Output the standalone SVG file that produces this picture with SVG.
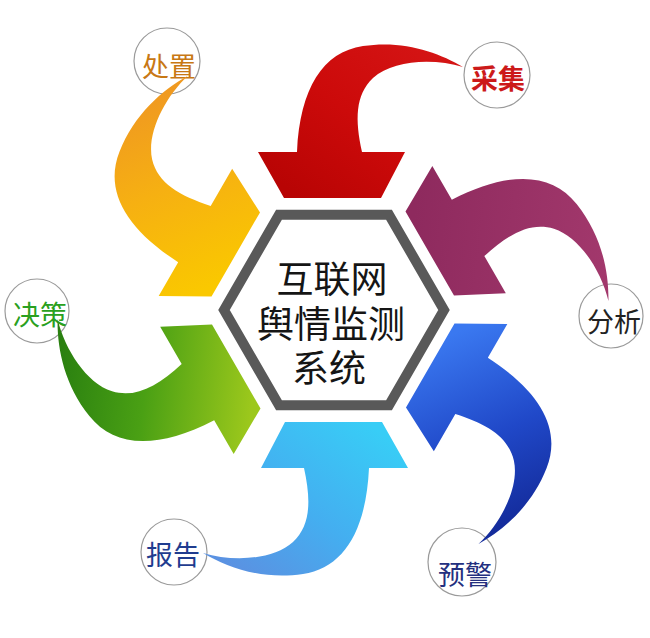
<svg xmlns="http://www.w3.org/2000/svg" xmlns:xlink="http://www.w3.org/1999/xlink" width="650" height="638" viewBox="0 0 650 638">
  <style>
    .ring { fill: #ffffff; stroke: #9a9a9a; stroke-width: 1.2; }
    .lbl { font-family: "Noto Sans CJK SC", "Noto Sans", sans-serif; font-size: 27px; text-anchor: middle; }
    .hubtxt { font-family: "Noto Sans CJK SC", "Noto Sans", sans-serif; font-size: 37px; fill: #151515; text-anchor: middle; }
  </style>
  <defs>
    <path id="arrow" d="M -75,-158 L -49,-112 L 48,-112 L 72,-158 L 29,-158 C 22,-190 22,-215 40,-232 C 60,-250 100,-252 130,-243 C 105,-258 70,-270 30,-264 C -10,-258 -33,-222 -36,-158 Z"/>
    <linearGradient id="gRed" x1="0.2" y1="1" x2="1" y2="0.2">
      <stop offset="0" stop-color="#b80404"/>
      <stop offset="0.5" stop-color="#cc0a0a"/>
      <stop offset="1" stop-color="#d41414"/>
    </linearGradient>
    <linearGradient id="gPurple" x1="0.2" y1="1" x2="1" y2="0.2">
      <stop offset="0" stop-color="#8e2a5e"/>
      <stop offset="1" stop-color="#a2386c"/>
    </linearGradient>
    <linearGradient id="gBlue" x1="0.2" y1="1" x2="1" y2="0.2">
      <stop offset="0" stop-color="#3a78f0"/>
      <stop offset="0.55" stop-color="#2048c8"/>
      <stop offset="1" stop-color="#142c9c"/>
    </linearGradient>
    <linearGradient id="gCyan" x1="0.2" y1="1" x2="1" y2="0.2">
      <stop offset="0" stop-color="#38cdf6"/>
      <stop offset="0.55" stop-color="#44aef0"/>
      <stop offset="1" stop-color="#5a92e2"/>
    </linearGradient>
    <linearGradient id="gGreen" x1="0.2" y1="1" x2="1" y2="0.2">
      <stop offset="0" stop-color="#9cc81c"/>
      <stop offset="0.55" stop-color="#4aa014"/>
      <stop offset="1" stop-color="#2a8010"/>
    </linearGradient>
    <linearGradient id="gOrange" x1="0.2" y1="1" x2="1" y2="0.2">
      <stop offset="0" stop-color="#fac800"/>
      <stop offset="0.55" stop-color="#f6b012"/>
      <stop offset="1" stop-color="#f09a20"/>
    </linearGradient>
  </defs>

  <rect x="0" y="0" width="650" height="638" fill="#ffffff"/>

  <g id="hub">
    <polygon points="224,310 279,214.7 389,214.7 444,310 389,405.3 279,405.3" fill="#ffffff" stroke="#595959" stroke-width="10" stroke-linejoin="miter"/>
    <text class="hubtxt" x="332" y="293">互联网</text>
    <text class="hubtxt" x="331" y="338">舆情监测</text>
    <text class="hubtxt" x="329" y="382">系统</text>
  </g>

  <g id="node-caiji">
    <circle class="ring" cx="497" cy="75" r="33"/>
    <text class="lbl" x="498" y="89" fill="#cc1a1a" font-weight="bold">采集</text>
  </g>
  <g id="node-fenxi">
    <circle class="ring" cx="611" cy="316" r="32"/>
    <text class="lbl" x="614" y="332" fill="#222222">分析</text>
  </g>
  <g id="node-yujing">
    <circle class="ring" cx="462" cy="562" r="34"/>
    <text class="lbl" x="465" y="585" fill="#24307f">预警</text>
  </g>
  <g id="node-baogao">
    <circle class="ring" cx="174" cy="552" r="33"/>
    <text class="lbl" x="173" y="565" fill="#1f3c8f">报告</text>
  </g>
  <g id="node-juece">
    <circle class="ring" cx="37" cy="311" r="32"/>
    <text class="lbl" x="40" y="325" fill="#2aa020">决策</text>
  </g>
  <g id="node-chuzhi">
    <circle class="ring" cx="167" cy="61" r="33"/>
    <text class="lbl" x="169" y="77" fill="#c87814">处置</text>
  </g>

  <g id="connectors">
    <use xlink:href="#arrow" fill="url(#gRed)" transform="translate(333,310) rotate(0)"/>
    <use xlink:href="#arrow" fill="url(#gPurple)" transform="translate(333,310) rotate(60)"/>
    <use xlink:href="#arrow" fill="url(#gBlue)" transform="translate(333,310) rotate(120)"/>
    <use xlink:href="#arrow" fill="url(#gCyan)" transform="translate(333,310) rotate(180)"/>
    <use xlink:href="#arrow" fill="url(#gGreen)" transform="translate(333,310) rotate(240)"/>
    <use xlink:href="#arrow" fill="url(#gOrange)" transform="translate(333,310) rotate(300)"/>
  </g>
</svg>
